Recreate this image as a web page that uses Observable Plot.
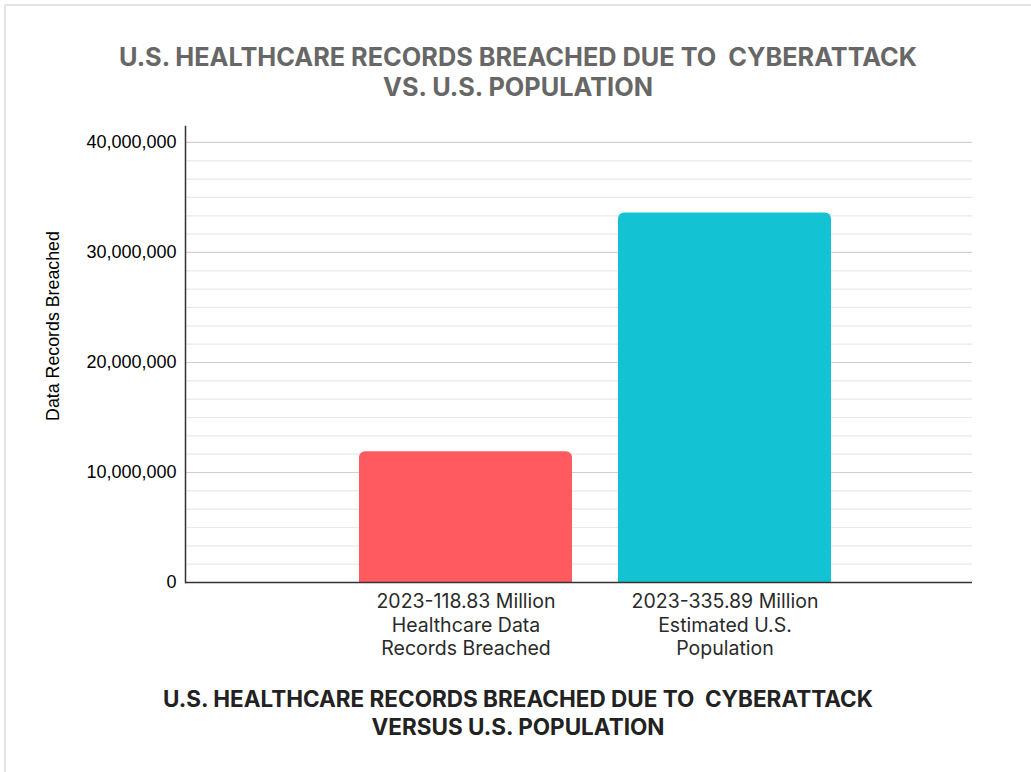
<!DOCTYPE html>
<html>
<head>
<meta charset="utf-8">
<script src="https://cdn.jsdelivr.net/npm/d3@7"></script>
<script src="https://cdn.jsdelivr.net/npm/@observablehq/plot@0.6"></script>
<style>
  html, body { margin: 0; padding: 0; background: #fff; overflow: hidden; width: 1031px; height: 772px; }
  #frame { position: absolute; left: 4px; top: 4px; width: 1200px; height: 900px; border-left: 2px solid #e4e4e4; border-top: 2px solid #e4e4e4; }
  #title { position: absolute; left: 0; top: 42px; width: 1036px; text-align: center; font: 700 25.3px Inter, "Liberation Sans", sans-serif; color: #676767; line-height: 30px; white-space: pre; letter-spacing: 0px; }
  #caption { position: absolute; left: 0; top: 685px; width: 1036px; text-align: center; font: 700 22.5px Inter, "Liberation Sans", sans-serif; color: #222; line-height: 28px; white-space: pre; letter-spacing: 0px; }
  #ylabel { position: absolute; left: 53px; top: 326px; transform: translate(-50%, -50%) rotate(-90deg); white-space: nowrap; font: 17.8px "Liberation Sans", Arial, sans-serif; color: #000; }
  #chart { position: absolute; left: 0; top: 110px; }
</style>
</head>
<body>
<div id="frame"></div>
<div id="title">U.S. HEALTHCARE RECORDS BREACHED DUE TO  CYBERATTACK
VS. U.S. POPULATION</div>
<div id="ylabel">Data Records Breached</div>
<div id="chart"></div>
<div id="caption">U.S. HEALTHCARE RECORDS BREACHED DUE TO  CYBERATTACK
VERSUS U.S. POPULATION</div>
<script>
const categories = [
  "2023-118.83 Million\nHealthcare Data\nRecords Breached",
  "2023-335.89 Million\nEstimated U.S.\nPopulation"
];
const values = [11883000, 33589000];
const colors = ["#FF5A5F", "#14C3D3"];
const yTicks = [0, 10000000, 20000000, 30000000, 40000000];
const yMax = 41450000;
const minorStep = 10000000 / 6;

const data = categories.map((c, i) => ({cat: c, value: values[i], color: colors[i]}));
const minorTicks = d3.range(minorStep, yMax, minorStep).filter(v => Math.abs(v / 10000000 - Math.round(v / 10000000)) > 1e-6);

const chart = Plot.plot({
  width: 1031,
  height: 570,
  marginTop: 16,
  marginBottom: 98,
  marginLeft: 185,
  marginRight: 59,
  style: {fontFamily: "'Liberation Sans', Arial, sans-serif", fontSize: "18px", color: "#000", background: "transparent"},
  x: {domain: categories, range: [336, 855], paddingInner: 0.177, paddingOuter: 0.0885},
  y: {domain: [0, yMax]},
  color: {type: "identity"},
  marks: [
    Plot.ruleY(minorTicks, {stroke: "#e9e9e9", strokeWidth: 1.2}),
    Plot.ruleY(yTicks.slice(1), {stroke: "#d0d0d0", strokeWidth: 1.2}),
    Plot.barY(data, {x: "cat", y: "value", fill: d => d.color, rx: 6}),
    Plot.barY(data, {x: "cat", y1: 0, y2: d => d.value / 2, fill: d => d.color}),
    Plot.ruleY([0], {stroke: "#333", strokeWidth: 1.5}),
    Plot.frame({anchor: "left", stroke: "#333", strokeWidth: 1.5}),
    Plot.axisY({ticks: yTicks, tickSize: 0, tickPadding: 9, tickFormat: d3.format(","), label: null, fontSize: 18, fill: "#000"}),
    Plot.axisX({tickSize: 0, tickPadding: 8, label: null, fontSize: 19.5, fontFamily: "Inter, 'Liberation Sans', sans-serif", lineHeight: 1.23, fill: "#2a2a2a"})
  ]
});
document.getElementById("chart").append(chart);
</script>
</body>
</html>
